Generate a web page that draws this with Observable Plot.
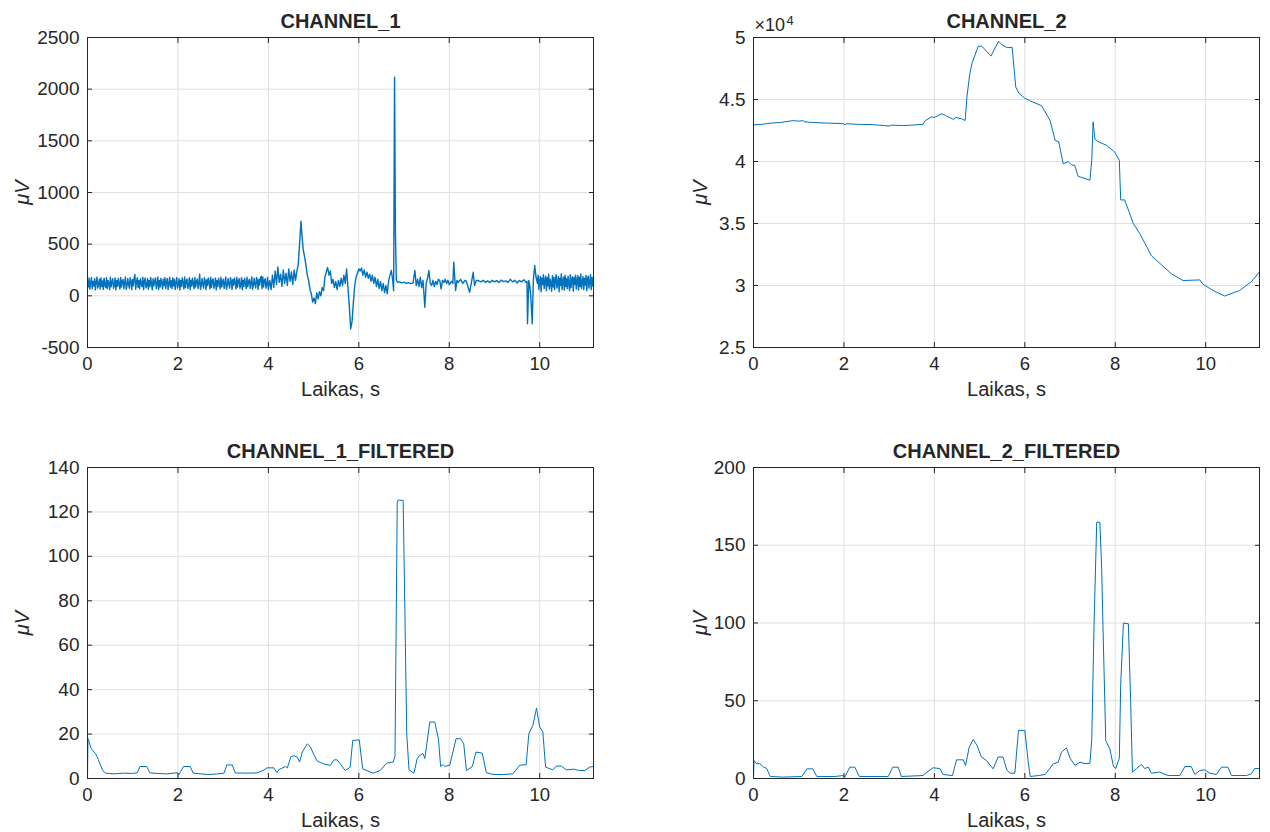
<!DOCTYPE html>
<html>
<head>
<meta charset="utf-8">
<script src="https://cdn.jsdelivr.net/npm/d3@7"></script>
<script src="https://cdn.jsdelivr.net/npm/@observablehq/plot@0.6"></script>
<style>
  html, body { margin: 0; padding: 0; background: #fff; }
  #root { position: relative; width: 1270px; height: 832px; overflow: hidden; background: #fff; }
  #root svg { position: absolute; }
</style>
</head>
<body>
<div id="root"></div>
<script>
// ---------------- data ----------------
const X_MAX = 11.19;
const xTicks = [0, 2, 4, 6, 8, 10];
const titles = ["CHANNEL_1", "CHANNEL_2", "CHANNEL_1_FILTERED", "CHANNEL_2_FILTERED"];
const xLabel = "Laikas, s";
const yLabel = "μV";

const ch1Ticks = [-500, 0, 500, 1000, 1500, 2000, 2500];
const ch2Ticks = [25000, 30000, 35000, 40000, 45000, 50000];
const ch3Ticks = [0, 20, 40, 60, 80, 100, 120, 140];
const ch4Ticks = [0, 50, 100, 150, 200];

// CHANNEL_1 raw: noisy baseline 0 – 4.0 s (read as a dense band ~55–185 µV)
const ch1Start = [
  150,85,172,64,120,178,70,140,95,168,58,130,182,76,110,160,66,175,90,145,
  62,170,105,80,176,68,150,122,60,180,88,135,165,72,100,174,58,148,92,170,
  115,66,178,84,140,160,70,125,182,62,95,168,110,74,176,140,60,158,98,172,
  206,64,130,175,82,150,68,166,118,90,180,60,142,172,76,104,168,64,150,88,
  178,120,58,165,96,140,174,70,110,182,62,150,86,170,125,66,160,100,176,72,
  135,168,60,118,180,84,146,70,172,96,158,62,130,178,76,112,166,58,150,90,
  174,128,66,182,80,140,164,72,104,176,60,152,94,170,118,68,178,86,138,162,
  70,122,210,64,96,168,112,74,176,142,60,156,100,172,130,66,180,82,148,164,
  72,108,174,58,150,92,170,124,68,180,86,136,162,70,120,182,64,98,168,110,
  76,176,144,62,158,102,172,128,66,180,84,146,166,74,106,176,60,152,90,170,
  120,70,180,88,140,160,72,126,184,64,100,170,114,76,178,146,62,160,104,174,
  190,68,182,86,150,166,74,110,178,62
];
// CHANNEL_1 raw: events 4.0 – 9.92 s  [t, µV]
const ch1Mid = [
  [4.03,150],[4.06,60],[4.09,200],[4.12,80],[4.15,240],[4.18,110],[4.21,280],[4.24,130],
  [4.27,210],[4.30,90],[4.33,250],[4.36,120],[4.39,220],[4.42,100],[4.45,260],[4.48,140],
  [4.51,230],[4.54,110],[4.57,250],[4.60,150],[4.63,240],[4.66,300],[4.69,500],[4.72,722],
  [4.74,600],[4.77,450],[4.80,380],[4.83,300],[4.86,200],[4.89,150],[4.92,60],[4.95,20],
  [4.98,-60],[5.01,-20],[5.04,-75],[5.07,30],[5.10,-30],[5.13,40],[5.16,0],[5.19,80],
  [5.22,50],[5.25,180],[5.28,230],[5.31,275],[5.34,200],[5.37,240],[5.40,120],[5.43,160],
  [5.46,80],[5.49,140],[5.52,60],[5.55,150],[5.58,90],[5.61,170],[5.64,100],[5.67,200],
  [5.70,120],[5.73,260],[5.76,80],[5.79,-100],[5.82,-320],[5.85,-250],[5.88,-60],[5.91,100],
  [5.94,180],[5.97,220],[6.00,260],[6.03,240],[6.06,270],[6.09,200],[6.12,250],[6.15,180],
  [6.18,230],[6.21,170],[6.24,210],[6.27,140],[6.30,200],[6.33,120],[6.36,180],[6.39,90],
  [6.42,160],[6.45,70],[6.48,140],[6.51,50],[6.54,120],[6.57,30],[6.60,100],[6.63,20],
  [6.66,150],[6.69,200],[6.72,245],[6.75,150],[6.77,50],[6.79,2115],[6.81,600],[6.83,150],
  [6.86,130],[6.90,135],[6.95,125],[7.00,132],[7.05,120],[7.10,128],[7.15,118],[7.20,125],
  [7.24,245],[7.27,100],[7.30,160],[7.33,90],[7.36,180],[7.39,80],[7.42,150],[7.46,-110],
  [7.49,120],[7.52,170],[7.55,245],[7.58,120],[7.61,100],[7.64,150],[7.67,90],[7.70,140],
  [7.73,110],[7.76,160],[7.79,148],[7.82,67],[7.85,150],[7.88,130],[7.91,160],[7.94,120],
  [7.97,150],[8.00,110],[8.05,140],[8.08,120],[8.10,325],[8.14,51],[8.17,150],[8.20,130],
  [8.25,160],[8.30,120],[8.35,150],[8.38,140],[8.45,35],[8.49,130],[8.53,228],[8.56,100],
  [8.60,150],[8.64,148],[8.70,135],[8.75,150],[8.80,130],[8.85,145],[8.90,128],[8.95,150],
  [9.00,135],[9.05,148],[9.10,130],[9.15,152],[9.20,138],[9.25,145],[9.30,130],[9.35,160],
  [9.40,135],[9.45,150],[9.50,125],[9.55,148],[9.60,135],[9.65,155],[9.70,130],[9.72,140],
  [9.73,-271],[9.76,150],[9.78,100],[9.80,20],[9.835,-271],[9.86,150],[9.89,293],[9.92,180]
];
// CHANNEL_1 raw: noisy tail 9.95 – 11.19 s (dense band ~35–213 µV)
const ch1End = [
  120,200,60,150,185,40,170,110,205,70,140,190,50,175,95,210,65,160,130,45,
  195,85,180,60,150,205,75,120,188,40,170,100,213,60,145,180,55,200,90,165,
  70,190,120,50,205,80,160,185,45,175,110,200,65,150,195,55,180,90,210,70,
  140,185,60,170,105,200,50,165,190,75,130,205,60,175,95,190
];

// CHANNEL_2 raw [t, µV]
const ch2 = [
  [0,42960],[0.2,43000],[0.4,43100],[0.6,43150],[0.88,43300],[1.0,43250],[1.1,43300],[1.12,43200],
  [1.3,43150],[1.6,43100],[2.0,43050],[2.02,42950],[2.06,43050],[2.3,43000],[2.6,42980],[2.9,42900],
  [3.0,42850],[3.05,42930],[3.3,42900],[3.5,42930],[3.75,43000],[3.8,43300],[3.94,43600],[4.0,43550],
  [4.16,43850],[4.25,43700],[4.42,43400],[4.48,43550],[4.6,43450],[4.68,43300],[4.72,45200],[4.78,47000],
  [4.83,47900],[4.97,49300],[5.05,49300],[5.15,48900],[5.25,48500],[5.42,49700],[5.5,49400],[5.6,49200],
  [5.72,49200],[5.8,46000],[5.87,45500],[6.0,45100],[6.11,44900],[6.37,44500],[6.56,43300],[6.67,41700],
  [6.75,41600],[6.85,39800],[6.96,40000],[7.04,39700],[7.1,39700],[7.18,38800],[7.44,38500],[7.48,40100],
  [7.51,43200],[7.55,41800],[7.62,41600],[7.81,41300],[7.99,40750],[8.09,40100],[8.12,36900],[8.21,36900],
  [8.4,35000],[8.54,34200],[8.8,32400],[9.24,30950],[9.5,30400],[9.87,30450],[9.94,30100],[10.16,29600],
  [10.42,29150],[10.75,29600],[11.01,30300],[11.19,31100]
];

// CHANNEL_1_FILTERED [t, µV]
const ch3 = [
  [0,0],[0.01,18],[0.03,17],[0.07,14],[0.12,12.5],[0.18,11.2],[0.24,8.5],[0.29,5.9],[0.34,3.5],
  [0.40,2.4],[0.59,2.1],[0.8,2.4],[1.0,2.3],[1.10,2.6],[1.16,5.4],[1.31,5.4],[1.38,2.5],[1.6,2.2],
  [1.77,2.1],[1.99,2.6],[2.02,1.8],[2.06,3],[2.12,5.4],[2.27,5.4],[2.34,2.4],[2.65,1.8],[2.85,2.0],
  [3.02,2.4],[3.08,6.1],[3.2,6.1],[3.27,2.5],[3.5,2.4],[3.75,2.5],[3.90,3.8],[3.97,4.8],[4.12,4.8],
  [4.19,2.6],[4.23,4.0],[4.30,4.6],[4.38,5.4],[4.42,4.8],[4.5,9.9],[4.57,10.2],[4.64,9.6],[4.69,7.4],
  [4.75,11.9],[4.86,15.6],[4.93,14.2],[5.0,11],[5.08,7.8],[5.22,6.6],[5.37,5.9],[5.45,8.4],[5.52,8.4],
  [5.59,6.6],[5.70,3.6],[5.81,5.1],[5.865,17.1],[6.01,17.4],[6.085,4.35],[6.32,2.4],[6.47,3.6],
  [6.615,6.9],[6.76,7.4],[6.80,10],[6.85,124.4],[6.87,125.3],[6.98,125.2],[7.0,100],[7.03,60],
  [7.06,20],[7.11,3.9],[7.22,2.4],[7.29,8.9],[7.35,10.5],[7.42,11.2],[7.46,9],[7.57,25.4],[7.68,25.4],
  [7.76,17.9],[7.81,5.4],[7.86,6.3],[7.9,5.5],[8.01,5.9],[8.15,17.9],[8.25,17.9],[8.32,15.6],[8.38,3.6],
  [8.51,5.4],[8.59,11.9],[8.73,11.4],[8.82,2.6],[8.97,1.8],[9.2,1.8],[9.41,2.1],[9.56,6.0],[9.70,6.2],
  [9.76,20.1],[9.85,23.9],[9.93,31.7],[10.0,23.2],[10.07,21.0],[10.13,5.1],[10.29,3.9],[10.37,5.6],
  [10.48,5.6],[10.59,3.9],[10.75,4.2],[10.88,3.6],[11.0,3.6],[11.1,5.1],[11.19,5.4]
];

// CHANNEL_2_FILTERED [t, µV]
const ch4 = [
  [0,0],[0.01,11.6],[0.07,9.4],[0.14,9.6],[0.22,7.3],[0.29,6.5],[0.37,1.3],[0.66,0.9],[1.07,1.3],
  [1.18,6.2],[1.31,6.2],[1.4,1.3],[1.8,1.3],[1.99,1.9],[2.02,0.9],[2.13,7.3],[2.24,7.3],[2.34,1.3],
  [2.98,1.3],[3.08,7.3],[3.2,7.3],[3.27,1.3],[3.75,1.9],[3.79,3.0],[3.97,6.9],[4.12,6.4],[4.19,2.6],
  [4.4,1.9],[4.49,12.0],[4.64,12.0],[4.69,8.4],[4.77,20.1],[4.86,25.1],[4.94,21.4],[5.04,13.8],
  [5.15,11.6],[5.30,6.2],[5.41,13.8],[5.52,13.8],[5.6,5.6],[5.67,3.4],[5.78,3.4],[5.86,30.9],[6.0,30.9],
  [6.08,9.4],[6.12,1.3],[6.3,1.9],[6.45,2.6],[6.63,9.4],[6.74,10.5],[6.81,16.9],[6.92,19.7],[7.0,13.1],
  [7.11,8.4],[7.22,10.5],[7.33,9.6],[7.44,9.8],[7.48,25],[7.53,97.3],[7.59,164.8],[7.66,164.8],
  [7.7,135],[7.73,96],[7.79,24.4],[7.88,19.1],[7.96,7.7],[8.01,6.4],[8.09,13.1],[8.12,60],[8.18,99.9],
  [8.29,99.5],[8.34,50],[8.38,4.1],[8.47,6.4],[8.58,9.0],[8.65,6.4],[8.73,7.3],[8.8,3.4],[8.98,4.1],
  [9.17,1.9],[9.43,1.9],[9.54,7.7],[9.68,7.7],[9.76,2.6],[9.87,5.1],[9.98,5.6],[10.09,3.4],[10.24,2.6],
  [10.35,7.3],[10.49,7.3],[10.57,1.9],[10.9,1.9],[11.01,3.0],[11.08,6.4],[11.19,6.4]
];

// ---------------- assemble ----------------
const ch1 = [
  ...ch1Start.map((v, i) => [i * 4.0 / (ch1Start.length - 1), v]),
  ...ch1Mid,
  ...ch1End.map((v, i) => [9.95 + i * (X_MAX - 9.95) / (ch1End.length - 1), v])
];

const FONT = "'Liberation Sans', Arial, Helvetica, sans-serif";
const INK = "#262626";
const GRID = "#dfdfdf";
const BLUE = "#0072BD";

function panel(cfg) {
  const {data, yDomain, yTicks, yFormat, title, left, top, plotH, mL, ylabelDx, exponent, lineWidth = 1} = cfg;
  const plotW = 506, mR = 12, mT = cfg.mT, mB = cfg.mB;
  const marks = [
    Plot.gridX(xTicks, {stroke: GRID, strokeOpacity: 1}),
    Plot.gridY(yTicks, {stroke: GRID, strokeOpacity: 1}),
    Plot.line(data, {x: d => d[0], y: d => d[1], stroke: BLUE, strokeWidth: lineWidth, clip: true}),
    Plot.frame({stroke: INK, strokeWidth: 1}),
    Plot.axisX(xTicks, {anchor: "bottom", tickSize: 5, dy: -5, fill: "none", stroke: INK, label: null}),
    Plot.axisX(xTicks, {anchor: "top", tickSize: 5, dy: 5, fill: "none", stroke: INK, label: null}),
    Plot.axisY(yTicks, {anchor: "left", tickSize: 5, dx: 5, fill: "none", stroke: INK, label: null}),
    Plot.axisY(yTicks, {anchor: "right", tickSize: 5, dx: -5, fill: "none", stroke: INK, label: null}),
    Plot.axisX(xTicks, {anchor: "bottom", tickSize: 0, tickPadding: 9, fontSize: 18.5, fill: INK, label: null, tickFormat: d => String(d)}),
    Plot.axisY(yTicks, {anchor: "left", tickSize: 0, tickPadding: 8, fontSize: 19, fill: INK, label: null, tickFormat: yFormat}),
    Plot.text([title], {text: d => d, frameAnchor: "top", dy: -10, lineAnchor: "bottom", fontSize: 20, fontWeight: "bold", fill: INK}),
    Plot.text([xLabel], {text: d => d, frameAnchor: "bottom", dy: 48, lineAnchor: "bottom", fontSize: 20, fill: INK}),
    Plot.text([yLabel], {text: d => d, frameAnchor: "left", dx: ylabelDx, rotate: -90, lineAnchor: "middle", textAnchor: "middle", fontSize: 20, fontStyle: "italic", fill: INK})
  ];
  if (exponent) {
    marks.push(Plot.text(["×10"], {text: d => d, frameAnchor: "top-left", dx: 1, dy: -7, lineAnchor: "bottom", textAnchor: "start", fontSize: 18, fill: INK}));
    marks.push(Plot.text([exponent], {text: d => d, frameAnchor: "top-left", dx: 33, dy: -13, lineAnchor: "bottom", textAnchor: "start", fontSize: 13, fill: INK}));
  }
  const svg = Plot.plot({
    width: mL + plotW + mR,
    height: mT + plotH + mB,
    marginLeft: mL, marginRight: mR, marginTop: mT, marginBottom: mB,
    x: {domain: [0, X_MAX]},
    y: {domain: yDomain},
    style: {fontFamily: FONT, background: "white", overflow: "visible"},
    marks
  });
  svg.style.left = left + "px";
  svg.style.top = top + "px";
  return svg;
}

const root = document.getElementById("root");
const intFmt = d => String(d);
const e4Fmt = d => d3.format("~g")(d / 1e4);

root.append(panel({data: ch1, yDomain: [-500, 2500], yTicks: ch1Ticks, yFormat: intFmt, title: titles[0],
  left: 0, top: 0, mL: 87, mT: 37, mB: 60, plotH: 310, ylabelDx: -65, lineWidth: 1.4}));
root.append(panel({data: ch2, yDomain: [25000, 50000], yTicks: ch2Ticks, yFormat: e4Fmt, title: titles[1],
  left: 663, top: 0, mL: 90, mT: 37, mB: 60, plotH: 310, ylabelDx: -53, exponent: "4"}));
root.append(panel({data: ch3, yDomain: [0, 140], yTicks: ch3Ticks, yFormat: intFmt, title: titles[2],
  left: 0, top: 422, mL: 87, mT: 45, mB: 54, plotH: 311, ylabelDx: -65}));
root.append(panel({data: ch4, yDomain: [0, 200], yTicks: ch4Ticks, yFormat: intFmt, title: titles[3],
  left: 663, top: 422, mL: 90, mT: 45, mB: 54, plotH: 311, ylabelDx: -53}));
</script>
</body>
</html>
